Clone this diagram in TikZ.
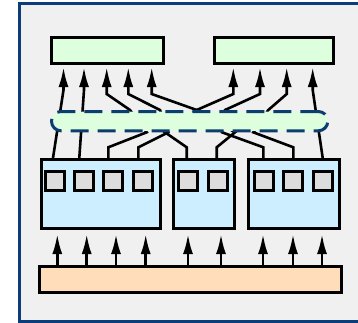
\documentclass[tikz,border=0pt]{standalone}
\usetikzlibrary{arrows.meta,shadows}
\pgfdeclarelayer{back}
\pgfdeclarelayer{conn}
\pgfsetlayers{back,conn,main}
\definecolor{bgc}{HTML}{F0F0F0}
\definecolor{framec}{HTML}{0B3D7A}
\definecolor{grn}{HTML}{DDFFDD}
\definecolor{blu}{HTML}{CCEEFF}
\definecolor{sqc}{HTML}{DDDDDD}
\definecolor{org}{HTML}{FFDDBB}
\definecolor{dashc}{HTML}{0B3D6E}
\begin{document}
\begin{tikzpicture}[x=1pt,y=1pt,
  box/.style={draw=black, line width=3pt, inner sep=0pt, outer sep=1.5pt, anchor=north west,
    drop shadow={shadow xshift=1.2pt, shadow yshift=-1.2pt, fill=black!30}},
  greenbox/.style={box, fill=grn, minimum height=26pt},
  bluebox/.style={box, fill=blu, minimum height=69pt},
  orangebox/.style={box, fill=org, minimum height=26.3pt},
  sqbox/.style={draw=black, line width=3pt, inner sep=0pt, outer sep=1.5pt, anchor=north west,
    fill=sqc, minimum width=19pt, minimum height=18.5pt},
  busbox/.style={draw=dashc, fill=grn, line width=3pt, dash pattern=on 18pt off 9pt,
    rounded corners=9.5pt, inner sep=0pt, outer sep=1.5pt, anchor=north west,
    minimum width=276.3pt, minimum height=19.3pt},
  wire/.style={draw=black, line width=2.6pt},
  arr/.style={wire, -{Latex[length=20pt,width=10pt]}}
]
\useasboundingbox (0,0) rectangle (358,-322);

\begin{pgfonlayer}{back}
\node[draw=framec, fill=bgc, line width=3pt, inner sep=0pt, outer sep=0pt, anchor=north west,
  minimum width=346pt, minimum height=317.7pt] (frame) at (19.2,-3.8) {};
\end{pgfonlayer}

% top receivers
\node[greenbox, minimum width=112pt] (tl) at (50,-36) {};
\node[greenbox, minimum width=119pt] (tr) at (213,-36) {};

% bus
\node[busbox] (bus) at (50,-110) {};

% middle boxes
\node[bluebox, minimum width=118.5pt] (b1) at (40,-158) {};
\node[bluebox, minimum width=61pt] (b2) at (172,-158) {};
\node[bluebox, minimum width=91pt] (b3) at (247,-158) {};

% squares
\node[sqbox] (s11) at (44,-170) {};
\node[sqbox] (s12) at (73.3,-170) {};
\node[sqbox] (s13) at (102,-170) {};
\node[sqbox] (s14) at (132,-170) {};
\node[sqbox] (s21) at (177.3,-170) {};
\node[sqbox] (s22) at (207,-170) {};
\node[sqbox] (s31) at (252.7,-170) {};
\node[sqbox] (s32) at (282,-170) {};
\node[sqbox] (s33) at (312,-170) {};

% bottom source
\node[orangebox, minimum width=302.3pt] (src) at (38,-265) {};

% ports
\foreach \n/\x in {1/53,2/79.3,3/108.3,4/138.3,5/186.7,6/216.7,7/263.3,8/293.3,9/322.7}
  \coordinate (o\n) at (\x,-158);
\foreach \n/\x in {1/63.5,2/84,3/106.7,4/128.3,5/151.7,6/233.3,7/260,8/286.7,9/312.7}
  \coordinate (i\n) at (\x,-67);
\foreach \n/\x in {1/57.3,2/86.7,3/116,4/145.7,5/188,6/221,7/263,8/293,9/322}{
  \coordinate (p\n) at (\x,-265);
  \coordinate (q\n) at (\x,-234);
}

\begin{pgfonlayer}{conn}
% straight links
\draw[arr] (o1) -- (63.5,-90) -- (i1);
\draw[arr] (o2) -- (84,-90) -- (i2);
\draw[arr] (o9) -- (312.7,-90) -- (i9);
% links through the bus
\draw[arr] (o3) -- (108.3,-147.3) -- (146.7,-132.3) -- (130,-110) -- (106.7,-94) -- (i3);
\draw[arr] (o4) -- (138.3,-147.3) -- (168.3,-132.3) -- (160,-110) -- (128.3,-94) -- (i4);
\draw[arr] (o5) -- (186.7,-147.3) -- (165,-132.3) -- (196.7,-110) -- (151.7,-94) -- (i5);
\draw[arr] (o6) -- (216.7,-147.3) -- (235,-132.3) -- (196.7,-110) -- (233.3,-94) -- (i6);
\draw[arr] (o7) -- (263.3,-147.3) -- (222,-132.3) -- (225,-110) -- (260,-94) -- (i7);
\draw[arr] (o8) -- (293.3,-147.3) -- (253.3,-132.3) -- (268.3,-110) -- (286.7,-94) -- (i8);
% bottom arrows
\foreach \n in {1,...,9}
  \draw[arr] (p\n) -- (q\n);
\end{pgfonlayer}
\end{tikzpicture}
\end{document}
